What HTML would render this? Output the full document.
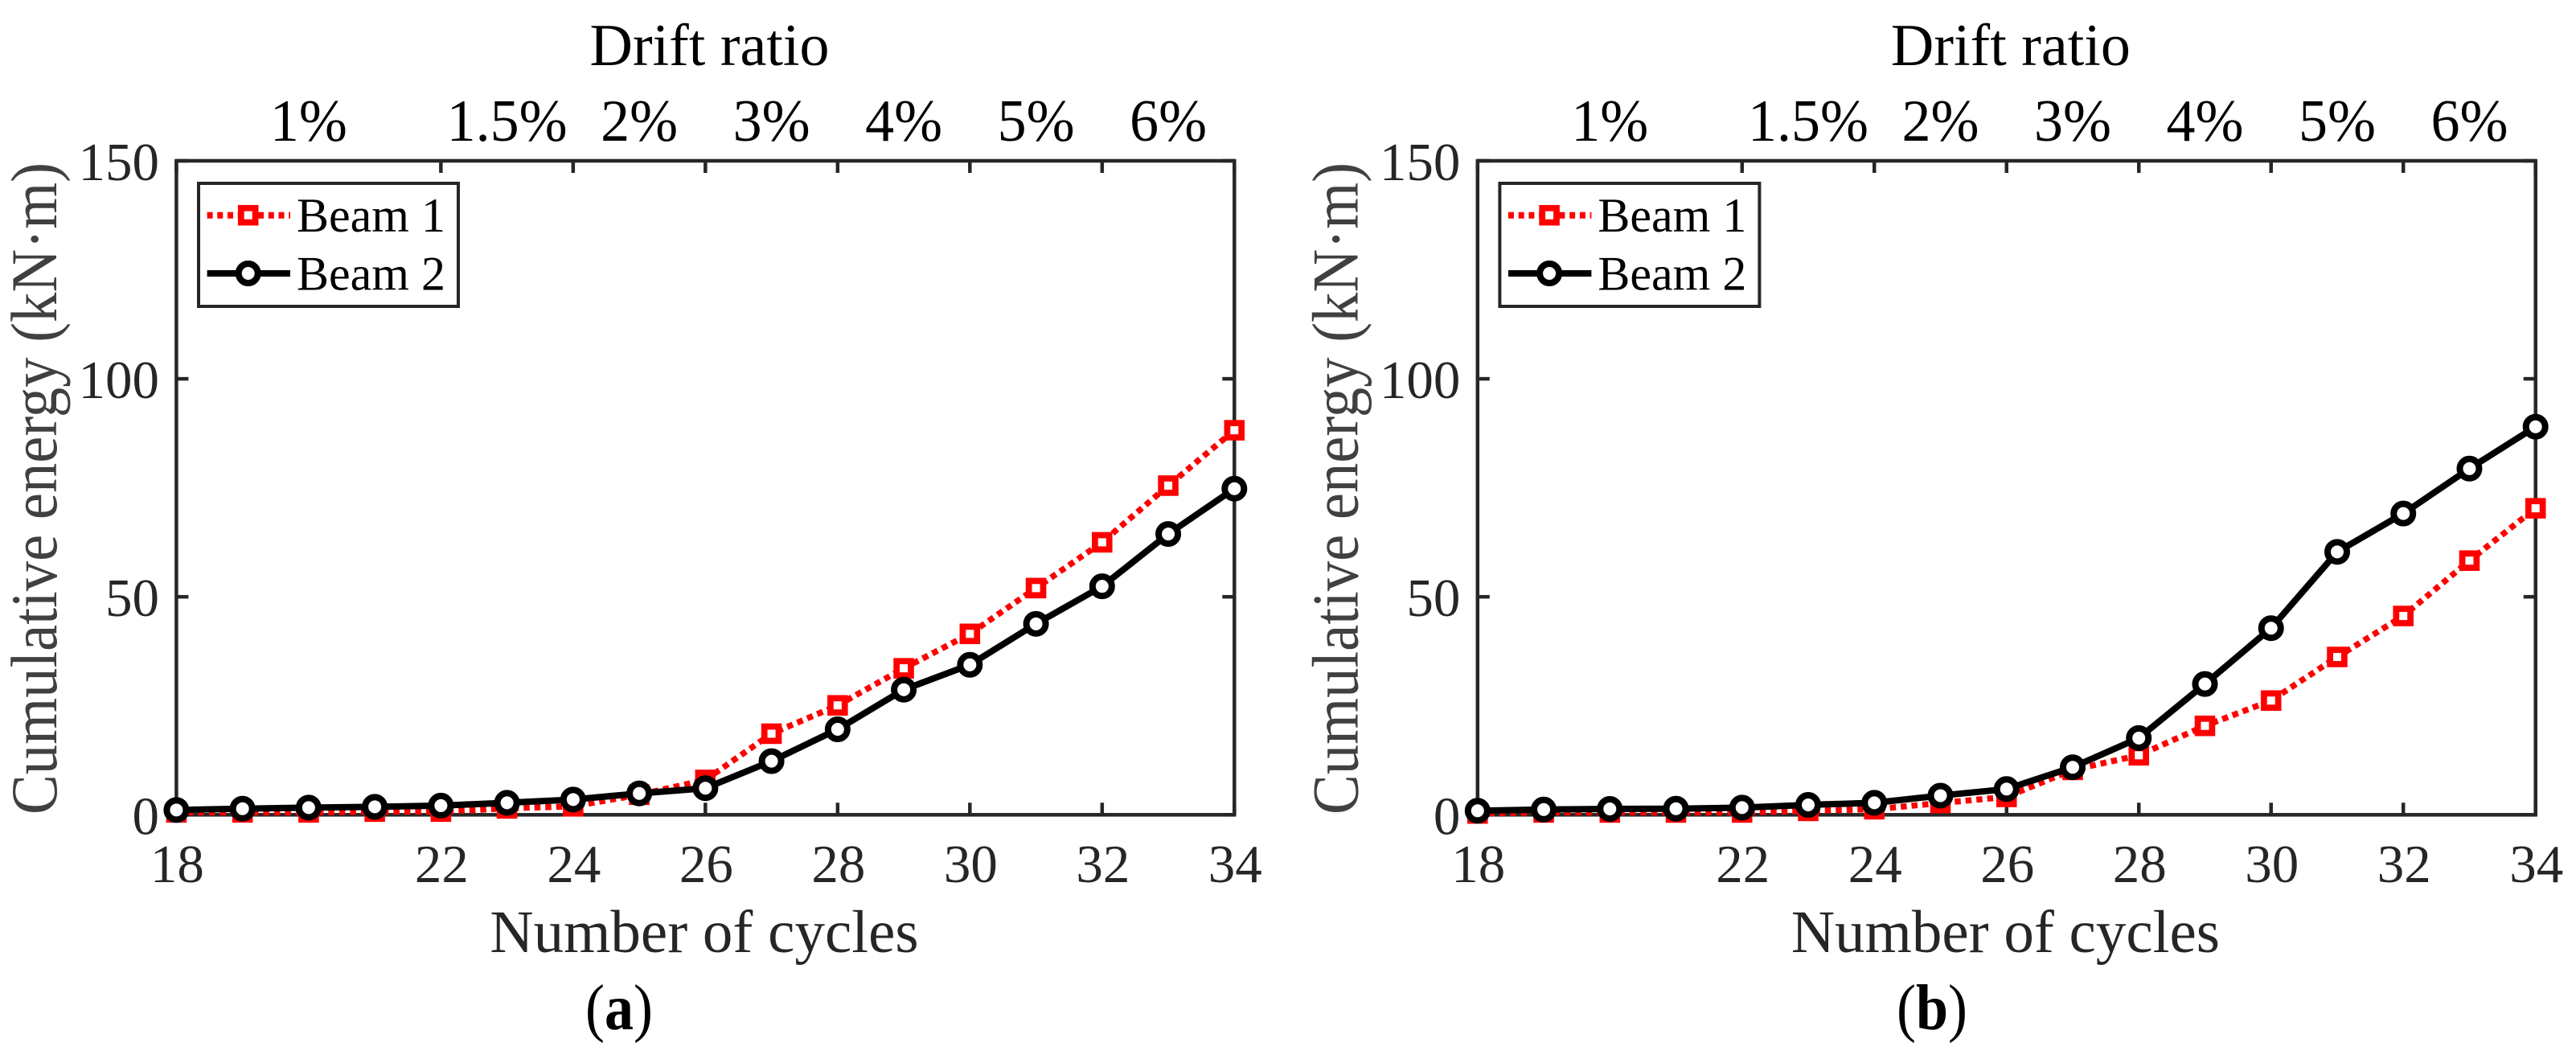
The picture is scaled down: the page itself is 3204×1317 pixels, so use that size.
<!DOCTYPE html>
<html lang="en">
<head>
<meta charset="utf-8">
<title>Cumulative energy versus number of cycles</title>
<style>
html,body{margin:0;padding:0;background:#fff;width:3204px;height:1317px;overflow:hidden}
svg{display:block}
text{font-family:"Liberation Serif",serif}
</style>
</head>
<body>
<svg id="figure" xmlns="http://www.w3.org/2000/svg" width="3204" height="1317" viewBox="0 0 3204 1317">
  <rect width="3204" height="1317" fill="#fff"/>
  <g id="panel-a"></g>
  <g id="panel-b" transform="translate(1618.4,0)"></g>
  <text transform="translate(770,1280) scale(1,1.12)" font-size="72" text-anchor="middle" fill="#000">(<tspan font-weight="bold">a</tspan>)</text>
  <text transform="translate(2403,1280) scale(1,1.12)" font-size="72" text-anchor="middle" fill="#000">(<tspan font-weight="bold">b</tspan>)</text>
</svg>
<script>
var cycles = [18,19,20,21,22,23,24,25,26,27,28,29,30,31,32,33,34];
var panelABeam1 = [0.55,0.55,0.55,0.73,0.73,1.47,1.95,4.6,8.0,18.6,25.1,33.6,41.5,52,62.5,75.5,88.2];
var panelABeam2 = [1.1,1.4,1.65,1.84,2.1,2.75,3.5,4.9,6.1,12.3,19.6,28.7,34.4,43.8,52.4,64.4,74.8];
var panelBBeam1 = [0.3,0.53,0.53,0.53,0.53,0.9,1.27,2.7,4.1,10.3,13.65,20.4,26.2,36.2,45.6,58.3,70.3];
var panelBBeam2 = [0.92,1.2,1.35,1.4,1.65,2.27,2.75,4.4,5.9,10.9,17.6,30,42.8,60.3,69.1,79.4,89];
var xTickValues = [18,22,24,26,28,30,32,34];
var yTickValues = [0,50,100,150];
var driftCycles = [20,23,25,27,29,31,33];
var driftLabels = ['1%','1.5%','2%','3%','4%','5%','6%'];

var NS = 'http://www.w3.org/2000/svg';
var LEFT = 219.4, RIGHT = 1535.3, TOP = 200, BOTTOM = 1013.3;
var INK = '#262626';

function xScale(v){ return LEFT + (v - 18) * (RIGHT - LEFT) / 16; }
function yScale(v){ return BOTTOM - v * (BOTTOM - TOP) / 150; }

function make(tag, parent, attrs){
  var el = document.createElementNS(NS, tag);
  for (var k in attrs) el.setAttribute(k, attrs[k]);
  parent.appendChild(el);
  return el;
}

function squareMarker(parent, cx, cy){
  var el = make('rect', parent, {x:cx-8.9, y:cy-8.9, width:17.8, height:17.8, fill:'#fff', stroke:'#f00', 'stroke-width':7.75});
  
  
}

function circleMarker(parent, cx, cy){
  var el = make('circle', parent, {cx:cx, cy:cy, r:12, fill:'#fff', stroke:'#000', 'stroke-width':8});
  
  
}

function drawPanel(panel, beam1, beam2){
  var i, el;

  var frame = make('rect', panel, {x:LEFT, y:TOP, width:RIGHT-LEFT, height:BOTTOM-TOP, fill:'none', stroke:INK, 'stroke-width':4.5});
  
  

  xTickValues.forEach(function(v){
    var x = xScale(v);
    var bottomTick = make('line', panel, {x1:x, x2:x, y1:BOTTOM, y2:BOTTOM-15, stroke:INK, 'stroke-width':4.5});
    
    
    var topTick = make('line', panel, {x1:x, x2:x, y1:TOP, y2:TOP+15, stroke:INK, 'stroke-width':4.5});
    
    
    var label = make('text', panel, {x:x+1, y:1097, 'font-size':67, 'text-anchor':'middle', fill:INK});
    
    
    label.textContent = String(v);
  });

  yTickValues.forEach(function(v){
    var y = yScale(v);
    var leftTick = make('line', panel, {x1:LEFT, x2:LEFT+15, y1:y, y2:y, stroke:INK, 'stroke-width':4.5});
    
    
    var rightTick = make('line', panel, {x1:RIGHT, x2:RIGHT-15, y1:y, y2:y, stroke:INK, 'stroke-width':4.5});
    
    
    var label = make('text', panel, {x:198, y:y+24, 'font-size':67, 'text-anchor':'end', fill:INK});
    
    
    label.textContent = String(v);
  });

  driftCycles.forEach(function(c, idx){
    var label = make('text', panel, {transform:'translate(' + xScale(c) + ',175) scale(1,1.03)', 'font-size':72, 'text-anchor':'middle', fill:'#000'});
    
    
    label.textContent = driftLabels[idx];
  });

  el = make('text', panel, {x:882.5, y:81, 'font-size':74, 'text-anchor':'middle', fill:'#000'});
  
  
  el.textContent = 'Drift ratio';

  el = make('text', panel, {x:876, y:1184, 'font-size':75, 'text-anchor':'middle', fill:INK});
  
  
  el.textContent = 'Number of cycles';

  el = make('text', panel, {transform:'translate(70,1013) rotate(-90) scale(1,1.04)', x:0, y:0, 'font-size':78, textLength:811, lengthAdjust:'spacingAndGlyphs', fill:'#404040'});
  
  
  el.textContent = 'Cumulative energy (kN\u00B7m)';

  var s1 = make('g', panel, {});
  
  
  var pts1 = cycles.map(function(c, k){ return xScale(c) + ',' + yScale(beam1[k]); }).join(' ');
  el = make('polyline', s1, {points:pts1, fill:'none', stroke:'#f00', 'stroke-width':7.5, 'stroke-dasharray':'7.5 6'});
  
  
  for (i = 0; i < cycles.length; i++) squareMarker(s1, xScale(cycles[i]), yScale(beam1[i]));

  var s2 = make('g', panel, {});
  
  
  var pts2 = cycles.map(function(c, k){ return xScale(c) + ',' + yScale(beam2[k]); }).join(' ');
  el = make('polyline', s2, {points:pts2, fill:'none', stroke:'#000', 'stroke-width':8, 'stroke-linejoin':'round'});
  
  
  for (i = 0; i < cycles.length; i++) circleMarker(s2, xScale(cycles[i]), yScale(beam2[i]));

  var legend = make('g', panel, {});
  
  
  el = make('rect', legend, {x:247, y:228, width:323, height:153, fill:'#fff', stroke:INK, 'stroke-width':4});
  
  
  el = make('line', legend, {x1:257.6, x2:361, y1:267.7, y2:267.7, stroke:'#f00', 'stroke-width':8, 'stroke-dasharray':'7 5.7'});
  
  
  squareMarker(legend, 308.7, 267.7);
  el = make('text', legend, {x:369, y:288, 'font-size':60, fill:'#000'});
  
  
  el.textContent = 'Beam 1';
  el = make('line', legend, {x1:257.6, x2:361, y1:340, y2:340, stroke:'#000', 'stroke-width':8});
  
  
  circleMarker(legend, 308.7, 340);
  el = make('text', legend, {x:369, y:360.5, 'font-size':60, fill:'#000'});
  
  
  el.textContent = 'Beam 2';
}

drawPanel(document.getElementById('panel-a'), panelABeam1, panelABeam2);
drawPanel(document.getElementById('panel-b'), panelBBeam1, panelBBeam2);
</script>
</body>
</html>
